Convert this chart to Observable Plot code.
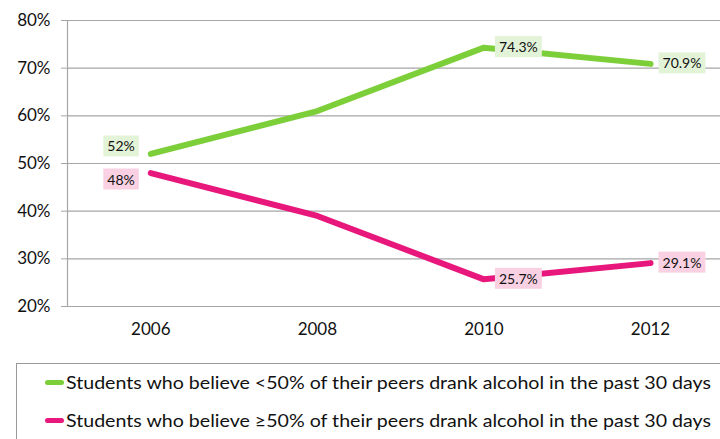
<!DOCTYPE html>
<html><head><meta charset="utf-8">
<script src="https://cdn.jsdelivr.net/npm/d3@7"></script>
<script src="https://cdn.jsdelivr.net/npm/@observablehq/plot@0.6"></script>
<style>
body{margin:0;background:#fff;overflow:hidden;width:720px;height:439px;position:relative;font-family:Lato,"DejaVu Sans",sans-serif}
#legend{position:absolute;left:16px;top:363px;width:740px;height:100px;border:1px solid #9a9a9a;box-sizing:border-box}
.item{position:absolute;left:28px;display:flex;align-items:center;font-family:Lato,"DejaVu Sans",sans-serif;font-size:17px;color:#111;white-space:nowrap}
.sw{width:19px;height:5px;border-radius:3px;margin-right:2px}
.tx{display:inline-block;transform-origin:left center}
</style></head><body>
<div id="chart"></div>
<div id="legend"></div>
<script>
const years = [2006, 2008, 2010, 2012];
const seriesNames = [
  "Students who believe <50% of their peers drank alcohol in the past 30 days",
  "Students who believe \u226550% of their peers drank alcohol in the past 30 days"
];
const lowBelief = [52, 61, 74.3, 70.9];
const highBelief = [48, 39, 25.7, 29.1];
const lowLabels = ["52%", "", "74.3%", "70.9%"];
const highLabels = ["48%", "", "25.7%", "29.1%"];
const yTicks = [20, 30, 40, 50, 60, 70, 80];
const colors = ["#7dcf3a", "#e8177c"];
const labelBg = ["#e3f3d8", "#f9d1e3"];

const rows = [];
years.forEach((yr, i) => {
  rows.push({year: yr, value: lowBelief[i], series: seriesNames[0], label: lowLabels[i], s: 0, i});
  rows.push({year: yr, value: highBelief[i], series: seriesNames[1], label: highLabels[i], s: 1, i});
});
const labelled = rows.filter(d => d.label);

const textMarks = [];
labelled.forEach(d => {
  const first = d.i === 0;
  textMarks.push(Plot.text([d], {
    x: "year", y: "value", text: "label",
    textAnchor: first ? "end" : "start",
    dx: first ? -16 : (d.i === 3 ? 12 : 15),
    dy: first ? (d.s === 0 ? -7 : 7) : 0,
    fontSize: 14, fill: "#111",
    className: "dl dl-" + d.s
  }));
});

const plot = Plot.plot({
  width: 720, height: 350,
  marginLeft: 67, marginRight: 0, marginTop: 20, marginBottom: 44,
  style: {fontFamily: "Lato, 'DejaVu Sans', sans-serif", fontSize: "17px", color: "#111", background: "transparent"},
  x: {type: "linear", domain: [2005, 2013], range: [67, 733.3], label: null},
  y: {domain: [20, 80], label: null},
  marks: [
    Plot.ruleY(yTicks, {stroke: "#a6a6a6", strokeWidth: 1.2}),
    Plot.ruleX([2005], {y1: 20, y2: 80, stroke: "#a6a6a6", strokeWidth: 1.2}),
    Plot.axisY({ticks: yTicks, tickFormat: d => d + "%", tickSize: 6, tickPadding: 11, stroke: "#a6a6a6", fontSize: 17}),
    Plot.axisX({ticks: years, tickFormat: d => String(d), tickSize: 0, tickPadding: 16, fontSize: 17}),
    Plot.line(rows, {x: "year", y: "value", z: "series", stroke: d => colors[d.s], strokeWidth: 6, strokeLinecap: "round", strokeLinejoin: "round"}),
    ...textMarks
  ]
});
document.getElementById("chart").appendChild(plot);

// background boxes behind data labels
plot.querySelectorAll("g.dl").forEach(g => {
  const s = g.classList.contains("dl-0") ? 0 : 1;
  g.querySelectorAll("text").forEach(t => {
    const b = t.getBBox();
    const r = document.createElementNS("http://www.w3.org/2000/svg", "rect");
    r.setAttribute("x", b.x - 4); r.setAttribute("y", b.y - 2);
    r.setAttribute("width", b.width + 8); r.setAttribute("height", b.height + 4);
    r.setAttribute("fill", labelBg[s]);
    const tr = t.getAttribute("transform");
    if (tr) r.setAttribute("transform", tr);
    t.parentNode.insertBefore(r, t);
  });
});

const legend = document.getElementById("legend");
seriesNames.forEach((name, i) => {
  const it = document.createElement("div");
  it.className = "item";
  it.style.top = (i === 0 ? 8 : 46) + "px";
  const sw = document.createElement("div");
  sw.className = "sw"; sw.style.background = colors[i];
  const tx = document.createElement("span");
  tx.className = "tx";
  tx.textContent = name;
  it.appendChild(sw); it.appendChild(tx);
  legend.appendChild(it);
  const w = tx.getBoundingClientRect().width;
  tx.style.transform = "scaleX(" + (645 / w) + ")";
});
</script>
</body></html>
